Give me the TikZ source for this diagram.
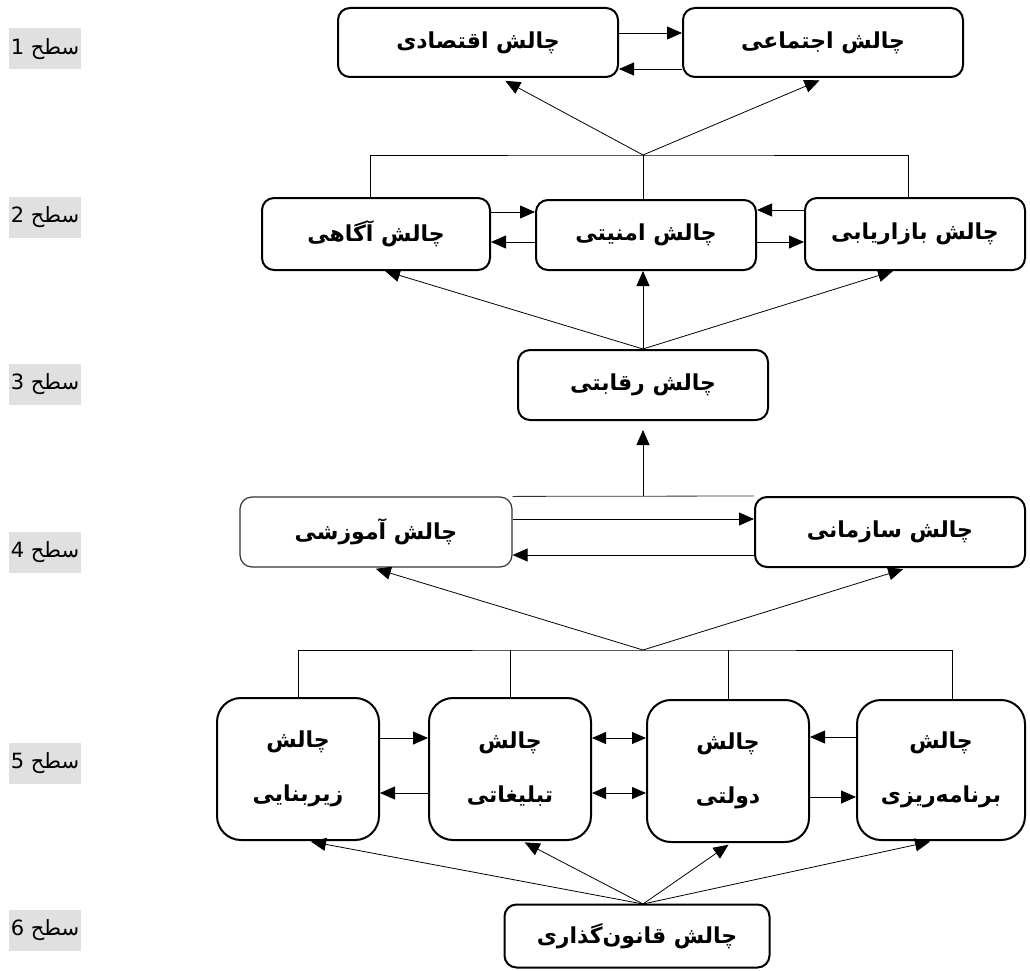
\documentclass[tikz,border=0pt]{standalone}
\usepackage{fontspec}
\usetikzlibrary{arrows.meta,calc}
\TeXXeTstate=1
\newfontfamily\arfont[Script=Arabic]{DejaVu Sans}
\newcommand{\ptxt}[1]{\beginR #1\endR}
\begin{document}
\begin{tikzpicture}[x=1pt,y=-1pt,
  box/.style={draw=black, line width=2pt, rounded corners=12pt, fill=white,
    font=\arfont\bfseries\fontsize{22}{26}\selectfont, inner sep=0pt},
  tall/.style={box, rounded corners=24pt, align=center, minimum width=162pt, minimum height=142pt},
  lvl/.style={fill=black!12, font=\arfont\fontsize{21}{24}\selectfont, inner sep=0.5pt,
    minimum width=72pt, minimum height=41pt},
  ln/.style={line width=0.8pt},
  tip/.style={},
  arr/.style={ln, -{Triangle[length=15pt,width=13pt]}},
  darr/.style={ln, {Triangle[length=14pt,width=12pt]}-{Triangle[length=14pt,width=12pt]}}
]
\useasboundingbox (0,0) rectangle (1030,971);

% level labels
\node[lvl] (L1) at (45,49) {\ptxt{سطح 1}};
\node[lvl] (L2) at (45,217) {\ptxt{سطح 2}};
\node[lvl] (L3) at (45,384) {\ptxt{سطح 3}};
\node[lvl] (L4) at (45,552) {\ptxt{سطح 4}};
\node[lvl] (L5) at (45,763) {\ptxt{سطح 5}};
\node[lvl] (L6) at (45,930) {\ptxt{سطح 6}};

% level 1
\node[box, minimum width=280pt, minimum height=69pt] (A) at (478,42.5) {\ptxt{چالش اقتصادی}};
\node[box, minimum width=280pt, minimum height=69pt] (B) at (823,42.5) {\ptxt{چالش اجتماعی}};
% level 2
\node[box, minimum width=228pt, minimum height=72pt] (C) at (376,234) {\ptxt{چالش آگاهی}};
\node[box, minimum width=220pt, minimum height=70pt] (D) at (646,235) {\ptxt{چالش امنیتی}};
\node[box, minimum width=220pt, minimum height=72pt] (E) at (915,234) {\ptxt{چالش بازاریابی}};
% level 3
\node[box, minimum width=250pt, minimum height=70pt] (F) at (643,385) {\ptxt{چالش رقابتی}};
% level 4
\node[box, line width=1.2pt, draw=black!80, minimum width=272pt, minimum height=70pt] (G) at (376,532) {\ptxt{چالش آموزشی}};
\node[box, minimum width=270pt, minimum height=70pt] (S) at (890,532) {\ptxt{چالش سازمانی}};
% level 5
\node[tall] (Z) at (298,769) {\ptxt{چالش}\\[28pt]\ptxt{زیربنایی}};
\node[tall] (T) at (510,769) {\ptxt{چالش}\\[28pt]\ptxt{تبلیغاتی}};
\node[tall] (Dl) at (728,771) {\ptxt{چالش}\\[28pt]\ptxt{دولتی}};
\node[tall, minimum width=168pt, minimum height=140pt] (P) at (941,770) {\ptxt{چالش}\\[28pt]\ptxt{برنامه‌ریزی}};
% level 6
\node[box, minimum width=265pt, minimum height=63pt] (Q) at (637,936) {\ptxt{چالش قانون‌گذاری}};

% junctions
\coordinate (j1) at (643,155);
\coordinate (j4) at (643,650);
\coordinate (j5) at (643,904);

% level 1 links
\draw[arr] (A.east |- 0,33) -- (B.west |- 0,33);
\draw[arr] (B.west |- 0,69) -- (A.east |- 0,69);
\draw[arr, shorten >=6pt] (j1) -- (A.south -| 500,0);
\draw[arr, shorten >=6pt] (j1) -- (B.south -| 825,0);

% level 2 frame
\draw[ln] (C.north -| 370,0) |- (j1) -| (E.north -| 908,0);
\draw[ln] (j1) -- (D.north -| j1);
\draw[arr] (C.east |- 0,212) -- (D.west |- 0,212);
\draw[arr] (D.west |- 0,242) -- (C.east |- 0,242);
\draw[arr] (E.west |- 0,210) -- (D.east |- 0,210);
\draw[arr] (D.east |- 0,242) -- (E.west |- 0,242);

% level 3 links
\draw[arr] (F.north) -- (C.south -| 385,0);
\draw[arr] (F.north) -- (D.south -| F.north);
\draw[arr] (F.north) -- (E.south -| 893,0);

% level 4
\draw[ln, draw=black!80] (G.north east) -- (S.north west);
\draw[arr, shorten >=9pt] (F.south |- G.north) -- (F.south);
\draw[arr] (G.east |- 0,519) -- (S.west |- 0,519);
\draw[arr] (S.west |- 0,555) -- (G.east |- 0,555);
\draw[arr, shorten >=4pt] (j4) -- (G.south -| 372,0);
\draw[arr, shorten >=4pt] (j4) -- (S.south -| 907,0);

% level 5 frame
\draw[ln] (Z.north) |- (j4) -| (P.north -| 952,0);
\draw[ln] (T.north) -- (T.north |- j4);
\draw[ln] (Dl.north) -- (Dl.north |- j4);
\draw[arr] (Z.east |- 0,738) -- (T.west |- 0,738);
\draw[arr] (T.west |- 0,793) -- (Z.east |- 0,793);
\draw[darr] (T.east |- 0,738) -- (Dl.west |- 0,738);
\draw[darr] (T.east |- 0,793) -- (Dl.west |- 0,793);
\draw[arr] (P.west |- 0,737) -- (Dl.east |- 0,737);
\draw[arr] (Dl.east |- 0,797) -- (P.west |- 0,797);

% level 6 links
\draw[arr, shorten >=3pt] (j5) -- (Z.south -| 308,0);
\draw[arr, shorten >=3pt] (j5) -- (T.south -| 522,0);
\draw[arr, shorten >=3pt] (j5) -- (Dl.south -| 731,0);
\draw[arr, shorten >=3pt] (j5) -- (P.south -| 933,0);
\end{tikzpicture}
\end{document}
